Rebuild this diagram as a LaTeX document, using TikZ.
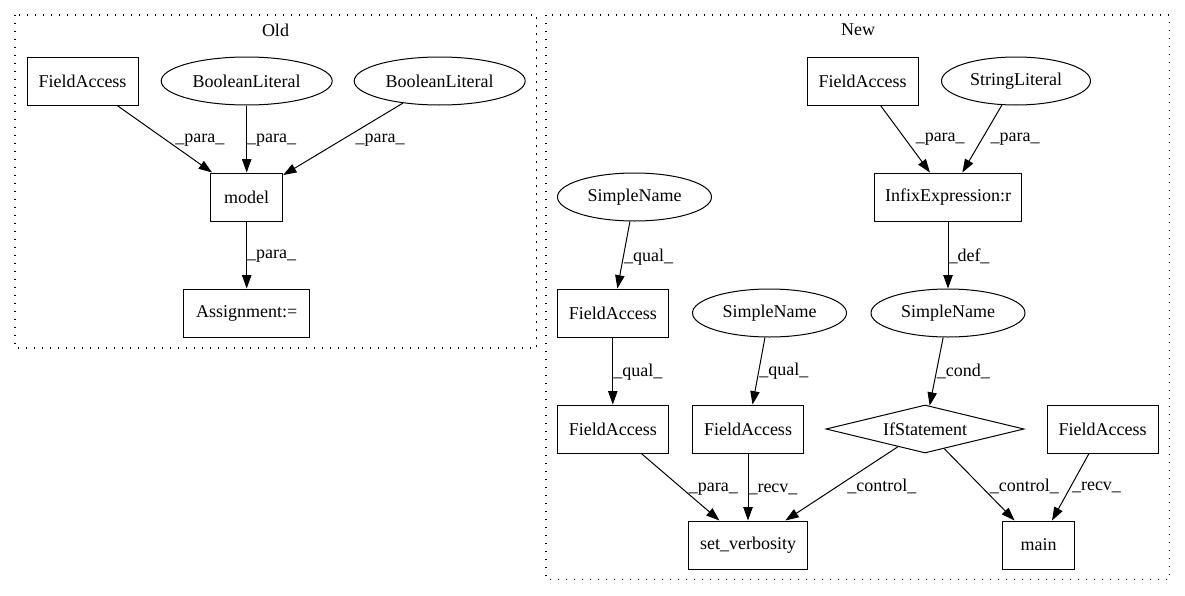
\documentclass[tikz,border=0pt]{standalone}
\usepackage{fontspec}
\setmainfont{Liberation Serif}
\usetikzlibrary{arrows.meta,shapes.geometric}
\tikzset{
    >={Triangle[length=10pt,width=7pt]},
    boks/.style={
           rectangle,
           draw=black, line width=0.75pt,
           minimum height=36pt,
           inner sep=0pt,
           text centered},
    oval/.style={
           ellipse,
           draw=black, line width=0.75pt,
           minimum height=36pt,
           inner sep=0pt,
           text centered},
    rute/.style={
           diamond, aspect=4,
           draw=black, line width=0.75pt,
           minimum width=148.5pt, minimum height=36pt,
           inner sep=0pt,
           text centered},
    pil/.style={
           ->,
           line width=0.75pt},
    merke/.style={
           anchor=west,
           inner sep=0pt},
    klynge/.style={
           draw=black, line width=0.8pt,
           dash pattern=on 1pt off 5pt}
}

\begin{document}
\begin{tikzpicture}[x=0.75pt,y=-0.75pt]
          \def \fa {83.25pt}
          \def \sn {115.5pt}
          \fontsize{13.5pt}{16pt}\selectfont
          \useasboundingbox (0,0) rectangle (1185,596);
          % old
          \draw[klynge] (15,15) rectangle (536.7,348);
          \node (oldtitle) at (275.5,30) {Old};
          \node[boks, minimum width=\fa](ofield) at (82.5,81) {FieldAccess};
          \node[oval, minimum width=128.25pt](obool1) at (246.7,81) {BooleanLiteral};
          \node[oval, minimum width=128.25pt](obool2) at (439.7,81) {BooleanLiteral};
          \node[boks, minimum width=54pt](omodel) at (246.7,197) {model};
          \node[boks, minimum width=94.5pt](oassign) at (246.7,313) {Assignment:=};
          \draw[pil] (ofield) -- node[merke, xshift=7.8pt, yshift=-0.75pt]{\_para\_} (omodel);
          \draw[pil] (obool1) -- node[merke, yshift=-0.75pt]{\_para\_} (omodel);
          \draw[pil] (obool2) -- node[merke, xshift=9pt, yshift=-0.75pt]{\_para\_} (omodel);
          \draw[pil] (omodel) -- node[merke, yshift=-0.75pt]{\_para\_} (oassign);
          % new
          \draw[klynge] (546,15) rectangle (1169.3,579.3);
          \node (newtitle) at (858,30) {New};
          \node[boks, minimum width=\fa](nfield1) at (862.5,81) {FieldAccess};
          \node[oval, minimum width=111.75pt](nstring) at (1016,81) {StringLiteral};
          \node[boks, minimum width=110.8pt](ninfix) at (948,197) {InfixExpression:r};
          \node[oval, minimum width=\sn](nname1) at (634.5,197) {SimpleName};
          \node[boks, minimum width=\fa](nfield2) at (612.8,313) {FieldAccess};
          \node[oval, minimum width=\sn](nname2) at (769.5,313) {SimpleName};
          \node[oval, minimum width=\sn](nname3) at (948,313) {SimpleName};
          \node[boks, minimum width=\fa](nfield3) at (612.8,429) {FieldAccess};
          \node[boks, minimum width=\fa](nfield4) at (748,429) {FieldAccess};
          \node[rute](nif) at (925,429) {IfStatement};
          \node[boks, minimum width=\fa](nfield5) at (1102.5,429) {FieldAccess};
          \node[boks, minimum width=89.25pt](nverb) at (748,545) {set\_verbosity};
          \node[boks, minimum width=53.7pt](nmain) at (1038.5,545) {main};
          \draw[pil] (nfield1) -- node[merke, xshift=7.5pt]{\_para\_} (ninfix);
          \draw[pil] (nstring) -- node[merke, xshift=6pt]{\_para\_} (ninfix);
          \draw[pil] (ninfix) -- node[merke, yshift=-1.25pt]{\_def\_} (nname3);
          \draw[pil] (nname1) -- node[merke, yshift=-1.5pt]{\_qual\_} (nfield2);
          \draw[pil] (nfield2) -- node[merke, yshift=-0.5pt]{\_qual\_} (nfield3);
          \draw[pil] (nname2) -- node[merke]{\_qual\_} (nfield4);
          \draw[pil] (nname3) -- node[merke]{\_cond\_} (nif);
          \draw[pil] (nfield3) -- node[merke, xshift=6pt, yshift=-1.5pt]{\_para\_} (nverb);
          \draw[pil] (nfield4) -- node[merke, yshift=-1.5pt]{\_recv\_} (nverb);
          \draw[pil] (nif) -- node[merke, xshift=4pt, yshift=-2.25pt]{\_control\_} (nverb);
          \draw[pil] (nif) -- node[merke, xshift=7.5pt, yshift=-1.5pt]{\_control\_} (nmain);
          \draw[pil] (nfield5) -- node[merke, xshift=0.75pt]{\_recv\_} (nmain);
\end{tikzpicture}
\end{document}
